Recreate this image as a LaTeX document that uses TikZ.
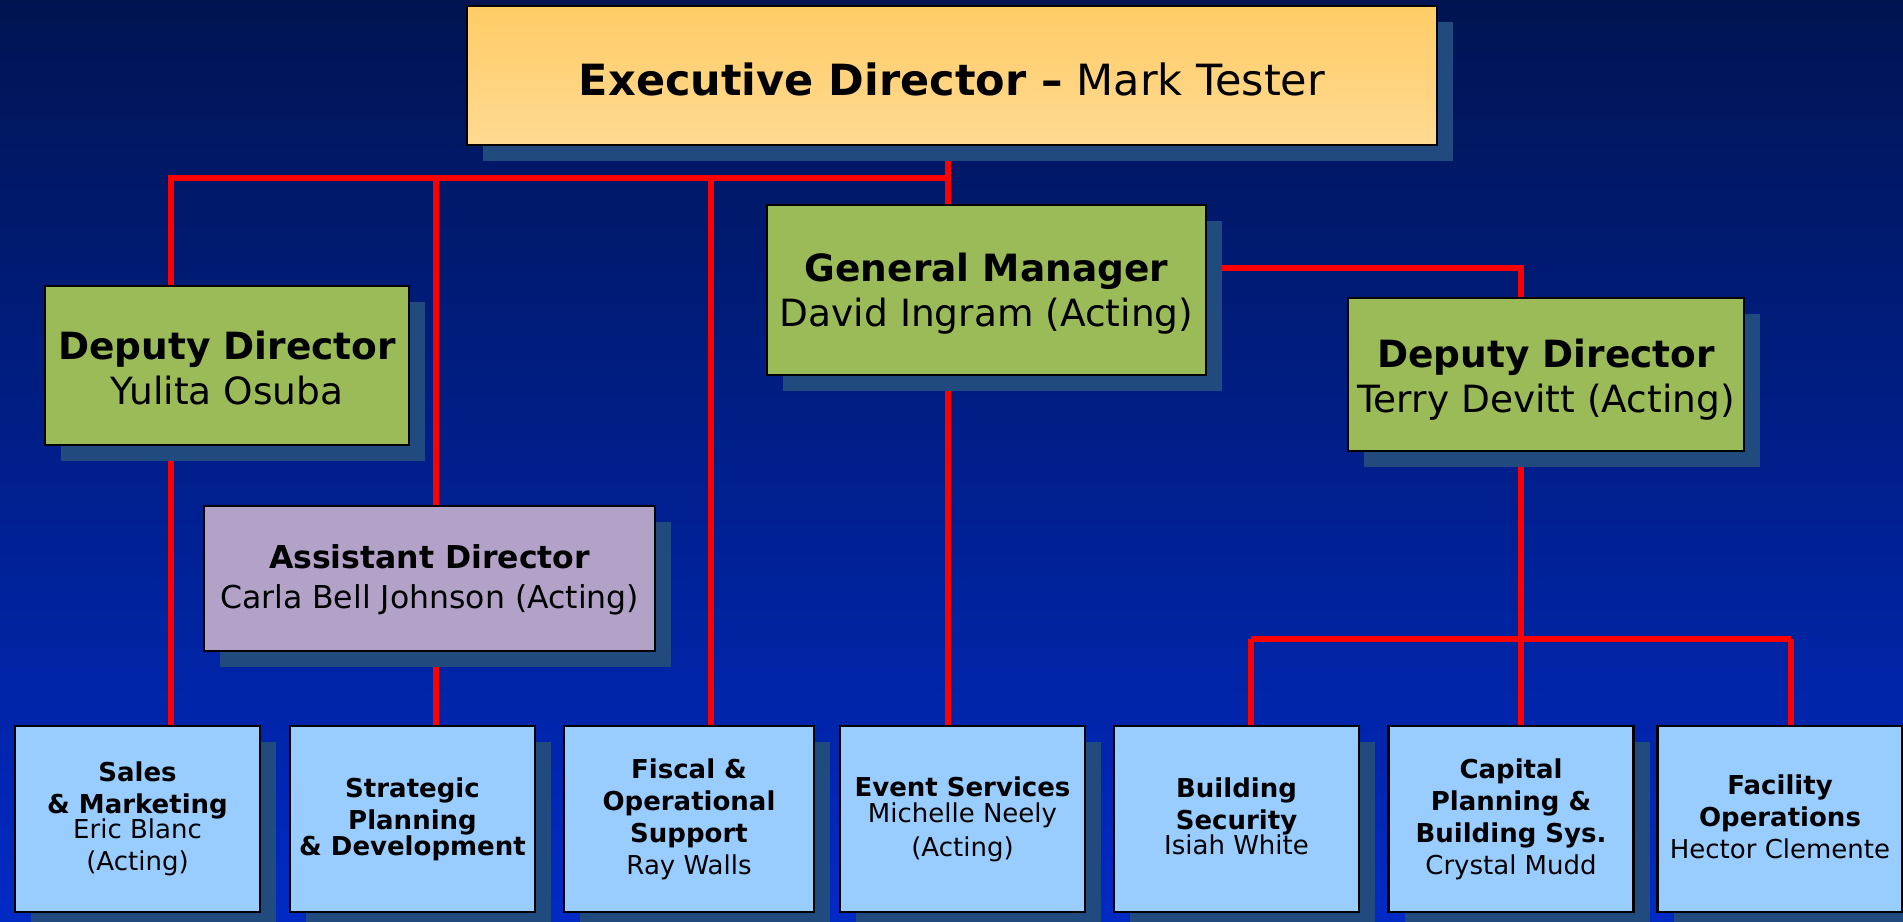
\documentclass[tikz,border=0pt]{standalone}
\usepackage{fontspec}
\setmainfont{DejaVu Sans}
\usetikzlibrary{shadows}

\definecolor{navytop}{RGB}{0,20,82}
\definecolor{navybot}{RGB}{0,42,196}
\definecolor{shadeblue}{RGB}{33,74,126}
\definecolor{execA}{RGB}{255,204,102}
\definecolor{execB}{RGB}{255,218,146}
\definecolor{mgrgreen}{RGB}{155,187,89}
\definecolor{asstlilac}{RGB}{178,162,199}
\definecolor{unitblue}{RGB}{153,204,255}

% push a block of centred lines down without changing its size
\newcommand\lowered[2]{\raisebox{-#1}[\height][\depth]{%
  \begin{tabular}{@{}c@{}}#2\end{tabular}}}

\pgfdeclarelayer{back}
\pgfdeclarelayer{links}
\pgfsetlayers{back,links,main}

\begin{document}
\begin{tikzpicture}[x=1pt,y=-1pt,
  box/.style={draw=black, line width=2.5pt, align=center, inner sep=0pt,
    general shadow={fill=shadeblue, shadow xshift=16pt, shadow yshift=-16pt}},
  topbox/.style={box, top color=execA, bottom color=execB,
    font=\fontsize{43}{50}\selectfont},
  mgr/.style={box, fill=mgrgreen, font=\fontsize{37.5}{45}\selectfont},
  asst/.style={box, fill=asstlilac, font=\fontsize{31.5}{40}\selectfont},
  unit/.style={box, fill=unitblue, minimum width=245pt, minimum height=186pt,
    font=\fontsize{26}{32}\selectfont},
  link/.style={red, line width=6pt}]
\useasboundingbox (0,0) rectangle (1903,921);
\begin{pgfonlayer}{back}
\fill[top color=navytop, bottom color=navybot] (0,0) rectangle (1903,921);
\end{pgfonlayer}

% heads
\node[topbox, minimum width=970pt, minimum height=139pt] (exec) at (952,75.5)
  {\lowered{10pt}{\textbf{Executive Director –} Mark Tester}};
\node[mgr, minimum width=439pt, minimum height=170pt] (gm) at (986.5,290)
  {\lowered{5pt}{\textbf{General Manager}\\David Ingram (Acting)}};
\node[mgr, minimum width=364pt, minimum height=159pt] (dep1) at (227,365.5)
  {\lowered{7pt}{\textbf{Deputy Director}\\Yulita Osuba}};
\node[mgr, minimum width=396pt, minimum height=153pt] (dep2) at (1546,374.5)
  {\lowered{6pt}{\textbf{Deputy Director}\\Terry Devitt (Acting)}};
\node[asst, minimum width=451pt, minimum height=145pt] (asst) at (429.5,578.5)
  {\lowered{2pt}{\textbf{Assistant Director}\\Carla Bell Johnson (Acting)}};

% units
\node[unit] (sales) at (137.5,819)
  {\textbf{Sales}\\\textbf{\& Marketing}\\[-7pt]Eric Blanc\\(Acting)};
\node[unit] (strat) at (412.5,819)
  {\textbf{Strategic}\\\textbf{Planning}\\[-6pt]\textbf{\& Development}};
\node[unit, minimum width=250pt] (fiscal) at (689,819)
  {\textbf{Fiscal \&}\\\textbf{Operational}\\\textbf{Support}\\Ray Walls};
\node[unit] (event) at (962.5,819)
  {\textbf{Event Services}\\[-6pt]Michelle Neely\\[2pt](Acting)};
\node[unit] (secur) at (1236.5,819)
  {\lowered{1pt}{\textbf{Building}\\\textbf{Security}\\[-7pt]Isiah White}};
\node[unit] (capital) at (1511,819)
  {\textbf{Capital}\\\textbf{Planning \&}\\\textbf{Building Sys.}\\Crystal Mudd};
\node[unit] (facil) at (1780,819)
  {\lowered{1pt}{\textbf{Facility}\\\textbf{Operations}\\Hector Clemente}};

% junctions
\coordinate (jexec) at (948,178);
\coordinate (jdep1) at (171,178);
\coordinate (jasst) at (435.5,178);
\coordinate (jfisc) at (710.5,178);
\coordinate (jgm)   at (1521,268);
\coordinate (jdep2) at (1521,639);
\coordinate (jsec)  at (1251,639);
\coordinate (jfac)  at (1791,639);

\begin{pgfonlayer}{links}
\draw[link] (jexec |- exec.south) -- (jexec |- gm.north);
\draw[link] (jexec) -- (jdep1) -- (jdep1 |- dep1.north);
\foreach \j/\b in {jasst/asst, jfisc/fiscal}
  \draw[link] (\j) -- (\j |- \b.north);
\draw[link] (jdep1 |- dep1.south) -- (jdep1 |- sales.north);
\draw[link] (jasst |- asst.south) -- (jasst |- strat.north);
\draw[link] (jexec |- gm.south) -- (jexec |- event.north);
\draw[link] (gm.east |- jgm) -- (jgm) -- (jgm |- dep2.north);
\draw[link] (jdep2 |- dep2.south) -- (jdep2 |- capital.north);
\draw[link] (jsec) -- (jfac);
\foreach \j/\b in {jsec/secur, jfac/facil}
  \draw[link] (\j) -- (\j |- \b.north);
\end{pgfonlayer}
\end{tikzpicture}
\end{document}
